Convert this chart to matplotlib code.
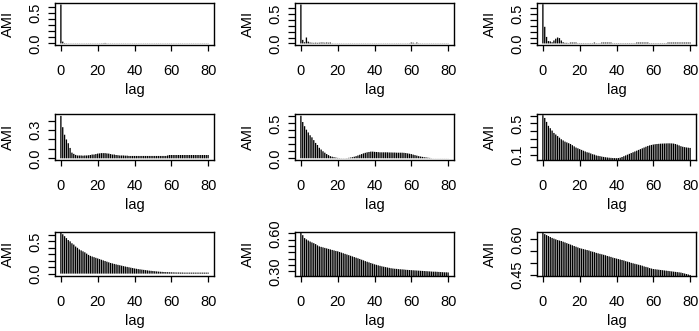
import numpy as np
import matplotlib
matplotlib.use("Agg")
import matplotlib.pyplot as plt

plt.rcParams['font.family'] = ['Liberation Sans', 'DejaVu Sans']

# AMI values for lags 0..80
lags = np.arange(81)

p1 = [0.645, 0.03, 0.006, 0.004, 0.003, 0.003, 0.003, 0.003, 0.003, 0.003,
      0.003, 0.003, 0.003, 0.003, 0.003, 0.003, 0.003, 0.003, 0.003, 0.003,
      0.003, 0.003, 0.004, 0.005, 0.008, 0.004, 0.003, 0.003, 0.003, 0.003,
      0.003, 0.003, 0.003, 0.003, 0.003, 0.003, 0.003, 0.003, 0.003, 0.003,
      0.003, 0.003, 0.003, 0.003, 0.003, 0.003, 0.003, 0.003, 0.003, 0.003,
      0.003, 0.003, 0.003, 0.003, 0.003, 0.003, 0.003, 0.003, 0.003, 0.003,
      0.003, 0.003, 0.003, 0.003, 0.003, 0.003, 0.003, 0.003, 0.003, 0.003,
      0.003, 0.003, 0.003, 0.003, 0.003, 0.003, 0.003, 0.003, 0.003, 0.003, 0.003]

p2 = [0.655, 0.06, 0.02, 0.1, 0.03, 0.015, 0.012, 0.01, 0.012, 0.01,
      0.012, 0.015, 0.015, 0.012, 0.015, 0.012, 0.015, 0.004, 0.003, 0.003,
      0.003, 0.003, 0.003, 0.003, 0.003, 0.003, 0.003, 0.003, 0.003, 0.003,
      0.003, 0.003, 0.003, 0.003, 0.003, 0.003, 0.003, 0.003, 0.003, 0.003,
      0.003, 0.003, 0.003, 0.003, 0.003, 0.003, 0.003, 0.003, 0.003, 0.003,
      0.003, 0.003, 0.003, 0.003, 0.003, 0.003, 0.003, 0.003, 0.003, 0.004,
      0.015, 0.012, 0.004, 0.015, 0.004, 0.003, 0.003, 0.003, 0.003, 0.003,
      0.003, 0.003, 0.003, 0.003, 0.003, 0.003, 0.003, 0.003, 0.003, 0.003, 0.003]

p3 = [0.66, 0.28, 0.11, 0.04, 0.035, 0.02, 0.05, 0.08, 0.1, 0.09,
      0.05, 0.02, 0.01, 0.01, 0.005, 0.015, 0.015, 0.015, 0.015, 0.005,
      0.005, 0.005, 0.005, 0.005, 0.005, 0.005, 0.005, 0.005, 0.015, 0.005,
      0.005, 0.005, 0.015, 0.015, 0.015, 0.015, 0.015, 0.015, 0.005, 0.005,
      0.005, 0.005, 0.005, 0.005, 0.005, 0.005, 0.005, 0.005, 0.005, 0.005,
      0.005, 0.015, 0.015, 0.015, 0.015, 0.015, 0.015, 0.015, 0.005, 0.005,
      0.005, 0.005, 0.005, 0.005, 0.005, 0.005, 0.005, 0.005, 0.015, 0.015,
      0.015, 0.015, 0.015, 0.015, 0.015, 0.015, 0.015, 0.015, 0.015, 0.015, 0.015]

p4 = [0.45, 0.33, 0.25, 0.2, 0.16, 0.11, 0.06, 0.047, 0.036, 0.03,
      0.03, 0.03, 0.028, 0.03, 0.03, 0.032, 0.035, 0.04, 0.04, 0.045,
      0.05, 0.052, 0.055, 0.055, 0.055, 0.052, 0.05, 0.045, 0.04, 0.04,
      0.035, 0.033, 0.03, 0.03, 0.03, 0.028, 0.028, 0.025, 0.025, 0.025,
      0.025, 0.025, 0.025, 0.025, 0.025, 0.025, 0.025, 0.025, 0.025, 0.025,
      0.025, 0.025, 0.025, 0.025, 0.025, 0.025, 0.025, 0.025, 0.03, 0.035,
      0.035, 0.035, 0.035, 0.035, 0.035, 0.035, 0.035, 0.035, 0.035, 0.035,
      0.035, 0.035, 0.035, 0.035, 0.035, 0.035, 0.035, 0.035, 0.035, 0.035, 0.035]

p5 = [0.61, 0.52, 0.46, 0.41, 0.37, 0.33, 0.3, 0.26, 0.22, 0.19,
      0.15, 0.125, 0.1, 0.08, 0.06, 0.045, 0.03, 0.022, 0.015, 0.01,
      0.005, 0.003, 0.002, 0.002, 0.002, 0.003, 0.006, 0.01, 0.015, 0.022,
      0.03, 0.04, 0.05, 0.06, 0.07, 0.078, 0.085, 0.09, 0.095, 0.095,
      0.092, 0.09, 0.088, 0.085, 0.085, 0.085, 0.085, 0.085, 0.083, 0.083,
      0.082, 0.082, 0.08, 0.08, 0.08, 0.08, 0.078, 0.075, 0.07, 0.065,
      0.06, 0.052, 0.045, 0.038, 0.03, 0.025, 0.02, 0.015, 0.012, 0.008,
      0.005, 0.002, 0.001, 0.001, 0.001, 0.001, 0.001, 0.001, 0.001, 0.001, 0.001]

p6 = [0.605, 0.57, 0.52, 0.47, 0.44, 0.41, 0.38, 0.36, 0.34, 0.32,
      0.30, 0.285, 0.27, 0.26, 0.25, 0.24, 0.225, 0.21, 0.195, 0.185,
      0.175, 0.165, 0.155, 0.145, 0.135, 0.13, 0.12, 0.11, 0.105, 0.095,
      0.09, 0.086, 0.08, 0.076, 0.072, 0.069, 0.066, 0.064, 0.062, 0.061,
      0.06, 0.062, 0.066, 0.075, 0.085, 0.095, 0.105, 0.115, 0.125, 0.135,
      0.145, 0.155, 0.165, 0.175, 0.185, 0.195, 0.205, 0.215, 0.222, 0.228,
      0.233, 0.237, 0.24, 0.242, 0.244, 0.245, 0.246, 0.247, 0.248, 0.248,
      0.247, 0.245, 0.24, 0.232, 0.222, 0.212, 0.205, 0.2, 0.196, 0.193, 0.19]

p7 = [0.64, 0.61, 0.58, 0.55, 0.52, 0.50, 0.47, 0.45, 0.42, 0.40,
      0.375, 0.36, 0.345, 0.33, 0.31, 0.29, 0.275, 0.265, 0.255, 0.245,
      0.235, 0.225, 0.215, 0.205, 0.195, 0.185, 0.175, 0.165, 0.158, 0.15,
      0.143, 0.136, 0.13, 0.123, 0.116, 0.11, 0.104, 0.098, 0.092, 0.086,
      0.08, 0.075, 0.07, 0.066, 0.062, 0.058, 0.054, 0.05, 0.046, 0.043,
      0.04, 0.037, 0.034, 0.031, 0.029, 0.027, 0.025, 0.023, 0.022, 0.021,
      0.02, 0.019, 0.018, 0.017, 0.017, 0.016, 0.016, 0.015, 0.015, 0.015,
      0.015, 0.015, 0.015, 0.015, 0.015, 0.015, 0.015, 0.015, 0.015, 0.015, 0.015]

p8 = [0.605, 0.585, 0.562, 0.552, 0.543, 0.535, 0.528, 0.522, 0.515, 0.505,
      0.497, 0.493, 0.489, 0.485, 0.481, 0.477, 0.473, 0.469, 0.465, 0.461,
      0.458, 0.453, 0.448, 0.443, 0.438, 0.433, 0.428, 0.423, 0.418, 0.413,
      0.408, 0.403, 0.398, 0.392, 0.387, 0.381, 0.376, 0.371, 0.366, 0.361,
      0.356, 0.352, 0.348, 0.344, 0.34, 0.337, 0.334, 0.331, 0.328, 0.325,
      0.323, 0.321, 0.32, 0.318, 0.317, 0.316, 0.315, 0.313, 0.312, 0.311,
      0.31, 0.309, 0.308, 0.307, 0.306, 0.305, 0.304, 0.303, 0.302, 0.301,
      0.30, 0.299, 0.298, 0.298, 0.297, 0.296, 0.295, 0.294, 0.293, 0.293, 0.292]

p9 = [0.627, 0.622, 0.618, 0.614, 0.61, 0.606, 0.603, 0.6, 0.597, 0.595,
      0.593, 0.59, 0.587, 0.584, 0.581, 0.578, 0.575, 0.572, 0.569, 0.566,
      0.563, 0.561, 0.559, 0.557, 0.555, 0.553, 0.55, 0.548, 0.546, 0.543,
      0.541, 0.539, 0.537, 0.535, 0.533, 0.53, 0.528, 0.526, 0.523, 0.521,
      0.519, 0.517, 0.515, 0.513, 0.511, 0.508, 0.506, 0.504, 0.501, 0.499,
      0.497, 0.495, 0.493, 0.491, 0.489, 0.486, 0.484, 0.482, 0.479, 0.477,
      0.475, 0.474, 0.473, 0.472, 0.471, 0.47, 0.469, 0.468, 0.467, 0.466,
      0.465, 0.464, 0.463, 0.462, 0.461, 0.46, 0.458, 0.456, 0.454, 0.452, 0.45]

series = [p1, p2, p3, p4, p5, p6, p7, p8, p9]

# y limits, tick positions and labelled ticks for each panel
ylims = [(-0.026, 0.67), (-0.026, 0.68), (-0.026, 0.68),
         (-0.018, 0.47), (-0.025, 0.635), (0.037, 0.62),
         (-0.037, 0.645), (0.264, 0.61), (0.4456, 0.631)]
yticks = [np.arange(0, 0.61, 0.1), np.arange(0, 0.61, 0.1), np.arange(0, 0.61, 0.1),
          np.arange(0, 0.41, 0.1), np.arange(0, 0.61, 0.1), np.arange(0.1, 0.61, 0.1),
          np.arange(0, 0.61, 0.1), np.arange(0.30, 0.601, 0.05), np.arange(0.45, 0.601, 0.05)]
ylabeled = [(0.0, 0.5), (0.0, 0.5), (0.0, 0.5),
            (0.0, 0.3), (0.0, 0.5), (0.1, 0.5),
            (0.0, 0.5), (0.30, 0.60), (0.45, 0.60)]
yfmt = ['%.1f'] * 7 + ['%.2f'] * 2

W, H = 699, 331
cols = [(55, 214), (295, 454), (537, 696)]
rows = [(3, 45), (114, 160), (232, 276)]
px = 0.72  # points per pixel at dpi 100

fig = plt.figure(figsize=(W / 100, H / 100), dpi=100)

for i, vals in enumerate(series):
    r, c = divmod(i, 3)
    x0, x1 = cols[c]
    y0, y1 = rows[r]
    ax = fig.add_axes([x0 / W, 1 - y1 / H, (x1 - x0) / W, (y1 - y0) / H])
    ax.vlines(lags, 0, vals, color='black', linewidth=0.95, snap=False)
    ax.set_xlim(-3.2, 83.2)
    ax.set_ylim(*ylims[i])
    ax.set_xticks([0, 20, 40, 60, 80])
    ax.set_yticks(yticks[i])
    labs = []
    for t in yticks[i]:
        if any(abs(t - l) < 1e-6 for l in ylabeled[i]):
            labs.append(yfmt[i] % t)
        else:
            labs.append('')
    ax.set_yticklabels(labs, rotation=90, va='center')
    ax.tick_params(axis='x', length=4, width=0.9, pad=10, labelsize=10.5)
    ax.tick_params(axis='y', length=5, width=0.9, pad=4, labelsize=10.5)
    for s in ax.spines.values():
        s.set_linewidth(1.0)
    ax.annotate('lag', xy=(0.5, 0), xycoords='axes fraction',
                xytext=(0, -45 * px), textcoords='offset points',
                ha='center', va='center', fontsize=10.5)
    ax.annotate('AMI', xy=(0, 0.5), xycoords='axes fraction',
                xytext=(-47 * px, 0), textcoords='offset points',
                ha='center', va='center', rotation=90, fontsize=10.5)

fig.savefig('out.png', dpi=100)
